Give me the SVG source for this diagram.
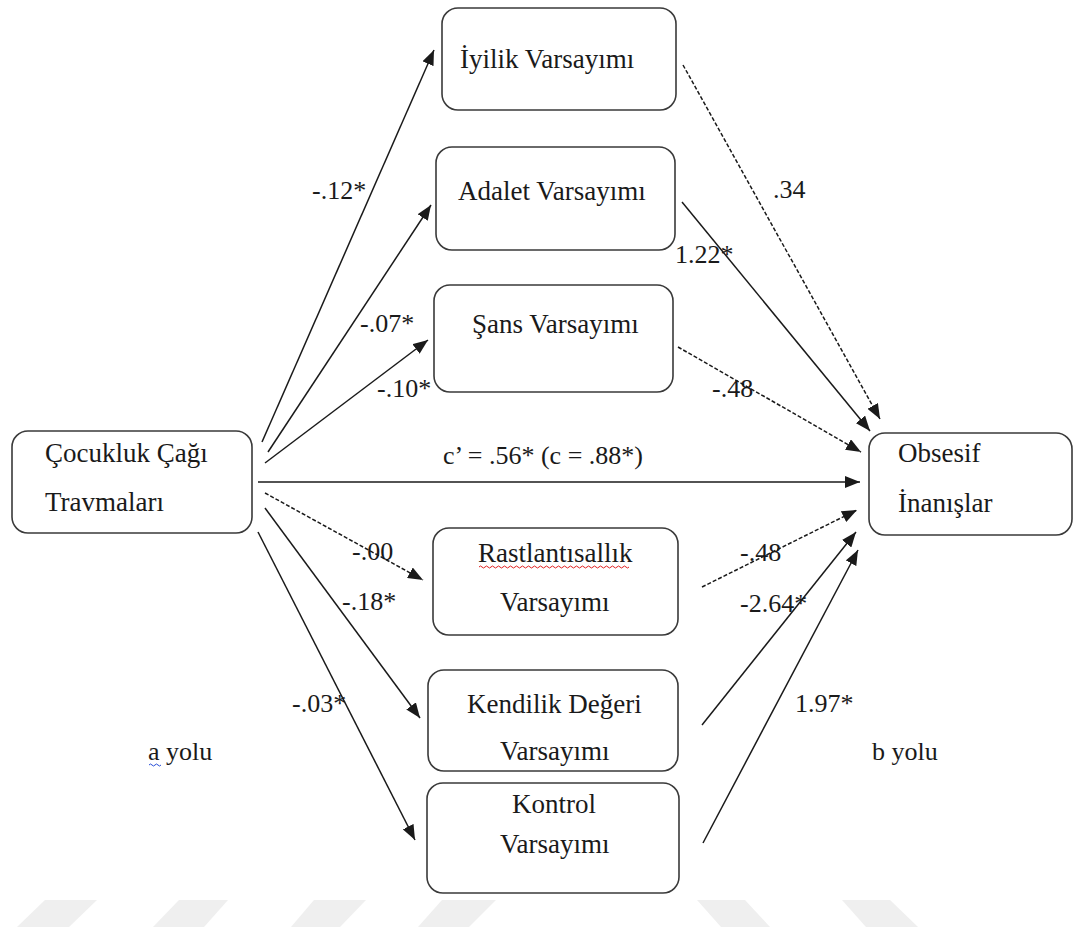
<svg xmlns="http://www.w3.org/2000/svg" width="1082" height="927" viewBox="0 0 1082 927">
<style>
.box{fill:#fff;stroke:#3a3a3a;stroke-width:1.6}
.t{font-family:"Liberation Serif","Times New Roman",serif;font-size:27px;fill:#1a1a1a}
.lbl{font-family:"Liberation Serif","Times New Roman",serif;font-size:26px;fill:#1a1a1a}
.ln{stroke:#1a1a1a;stroke-width:1.5;fill:none;marker-end:url(#ah)}
.dash{stroke-dasharray:4 2}
.wm{fill:#efefef}
</style>
<defs>
<marker id="ah" markerUnits="userSpaceOnUse" markerWidth="16" markerHeight="12" refX="15" refY="6" orient="auto">
<path d="M0,0 L15,6 L0,12 z" fill="#1a1a1a"/>
</marker>
</defs>
<rect width="1082" height="927" fill="#fff"/>
<g id="watermark">
<polygon class="wm" points="45,900 97,900 69,927 17,927"/>
<polygon class="wm" points="179,900 228,900 204,927 153,927"/>
<polygon class="wm" points="314,900 366,900 340,927 291,927"/>
<polygon class="wm" points="442,900 496,900 469,927 418,927"/>
<polygon class="wm" points="697,900 745,900 770,927 721,927"/>
<polygon class="wm" points="842,900 890,900 918,927 866,927"/>
</g>
<g id="connectors">
<line class="ln" x1="262" y1="442" x2="434" y2="50"/>
<line class="ln" x1="268" y1="452" x2="431" y2="205"/>
<line class="ln" x1="265" y1="463" x2="428" y2="340"/>
<line class="ln" x1="258" y1="482" x2="860" y2="482"/>
<line class="ln dash" x1="265" y1="493" x2="423" y2="580"/>
<line class="ln" x1="265" y1="508" x2="420" y2="718"/>
<line class="ln" x1="258" y1="532" x2="415" y2="840"/>
<line class="ln dash" x1="683" y1="65" x2="880" y2="419"/>
<line class="ln" x1="682" y1="202" x2="870" y2="431"/>
<line class="ln dash" x1="678" y1="347" x2="861" y2="452"/>
<line class="ln dash" x1="702" y1="587" x2="857" y2="510"/>
<line class="ln" x1="702" y1="725" x2="856" y2="532"/>
<line class="ln" x1="703" y1="843" x2="858" y2="550"/>
</g>
<g id="edge-labels">
<text class="lbl" x="312" y="199">-.12*</text>
<text class="lbl" x="360" y="332">-.07*</text>
<text class="lbl" x="377" y="397">-.10*</text>
<text class="lbl" x="443" y="464">c’ = .56* (c = .88*)</text>
<text class="lbl" x="352" y="560">-.00</text>
<text class="lbl" x="342" y="610">-.18*</text>
<text class="lbl" x="292" y="712">-.03*</text>
<text class="lbl" x="773" y="198">.34</text>
<text class="lbl" x="675" y="263">1.22*</text>
<text class="lbl" x="712" y="397">-.48</text>
<text class="lbl" x="740" y="561">-.48</text>
<text class="lbl" x="740" y="612">-2.64*</text>
<text class="lbl" x="795" y="712">1.97*</text>
<text class="lbl" x="148" y="760">a yolu</text>
<path d="M149,765 q1.5,-2 3,0 t3,0 t3,0 t3,0" fill="none" stroke="#2a4fd8" stroke-width="1"/>
<text class="lbl" x="872" y="760">b yolu</text>
</g>
<g id="node-cocukluk">
<rect class="box" x="12" y="431" width="240" height="102" rx="16"/>
<text class="t" x="45" y="462">Çocukluk Çağı</text>
<text class="t" x="45" y="511">Travmaları</text>
</g>
<g id="node-iyilik">
<rect class="box" x="442" y="8" width="234" height="102" rx="16"/>
<text class="t" x="460" y="68">İyilik Varsayımı</text>
</g>
<g id="node-adalet">
<rect class="box" x="436" y="147" width="239" height="103" rx="16"/>
<text class="t" x="458" y="200">Adalet Varsayımı</text>
</g>
<g id="node-sans">
<rect class="box" x="434" y="285" width="239" height="107" rx="16"/>
<text class="t" x="472" y="333">Şans Varsayımı</text>
</g>
<g id="node-rastlantisallik">
<rect class="box" x="433" y="528" width="245" height="107" rx="16"/>
<text class="t" x="478" y="562">Rastlantısallık</text>
<path d="M479,567 q1.5,-2 3,0 t3,0 t3,0 t3,0 t3,0 t3,0 t3,0 t3,0 t3,0 t3,0 t3,0 t3,0 t3,0 t3,0 t3,0 t3,0 t3,0 t3,0 t3,0 t3,0 t3,0 t3,0 t3,0 t3,0 t3,0 t3,0 t3,0 t3,0 t3,0 t3,0 t3,0 t3,0 t3,0 t3,0 t3,0 t3,0 t3,0 t3,0 t3,0 t3,0 t3,0 t3,0 t3,0 t3,0 t3,0 t3,0 t3,0 t3,0 t3,0 t3,0" fill="none" stroke="#e02020" stroke-width="1"/>
<text class="t" x="500" y="611">Varsayımı</text>
</g>
<g id="node-kendilik">
<rect class="box" x="428" y="670" width="250" height="101" rx="16"/>
<text class="t" x="467" y="713">Kendilik Değeri</text>
<text class="t" x="500" y="760">Varsayımı</text>
</g>
<g id="node-kontrol">
<rect class="box" x="427" y="783" width="252" height="110" rx="16"/>
<text class="t" x="512" y="813">Kontrol</text>
<text class="t" x="500" y="853">Varsayımı</text>
</g>
<g id="node-obsesif">
<rect class="box" x="869" y="433" width="203" height="102" rx="16"/>
<text class="t" x="898" y="462">Obsesif</text>
<text class="t" x="898" y="512">İnanışlar</text>
</g>
</svg>
